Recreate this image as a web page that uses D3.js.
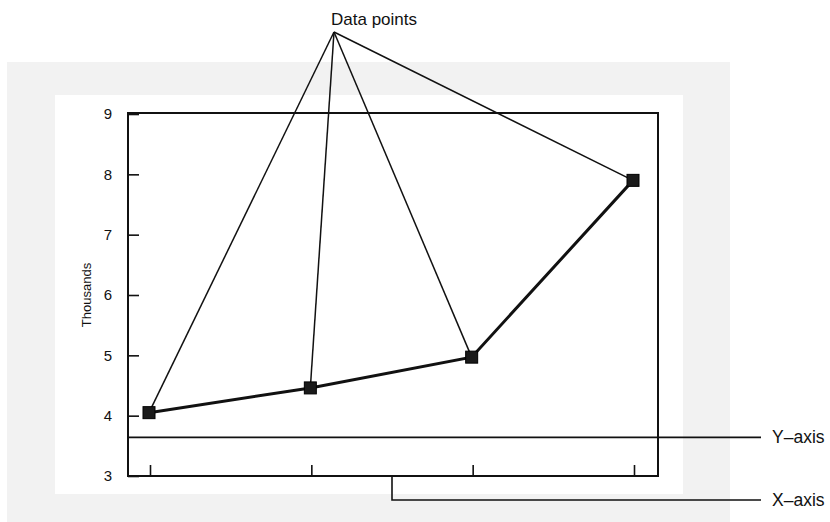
<!DOCTYPE html>
<html><head><meta charset="utf-8">
<script src="https://cdn.jsdelivr.net/npm/d3@7"></script>
<style>html,body{margin:0;padding:0;background:#fff;}svg{display:block;font-family:"Liberation Sans",Arial,sans-serif;}</style>
</head><body>
<svg id="c" width="830" height="522"></svg>
<script>
const categories = ["P1", "P2", "P3", "P4"];
const values = [4.05, 4.46, 4.97, 7.9];
const yTicks = [3, 4, 5, 6, 7, 8, 9];
const yAxisPointerValue = 3.64;
const calloutTitle = "Data points";
const yAxisLabel = "Thousands";
const pointerLabels = ["Y\u2013axis", "X\u2013axis"];

(function () {
const svg = d3.select("#c");
// faint scanned-page background
svg.append("rect").attr("x", 7).attr("y", 62).attr("width", 723).attr("height", 460).attr("fill", "#f2f2f2");
svg.append("rect").attr("x", 55).attr("y", 95).attr("width", 628).attr("height", 399).attr("fill", "#fff");

const pLeft = 128, pRight = 658, pTop = 113, pBottom = 476;
const x = d3.scalePoint().domain(categories).range([150, 634]);
const y = d3.scaleLinear().domain([3, 9]).range([pBottom, 114]);

// frame
svg.append("path").attr("d", `M${pLeft},${pTop}H${pRight}V${pBottom}H${pLeft}Z`)
  .attr("fill", "none").attr("stroke", "#111").attr("stroke-width", 2);

// y axis ticks (inside)
const yAx = d3.axisLeft(y).tickValues(yTicks).tickSizeInner(-11).tickSizeOuter(0).tickPadding(16).tickFormat(d3.format("d"));
const ya = svg.append("g").attr("transform", `translate(${pLeft},0)`).call(yAx);
ya.select(".domain").remove();
ya.selectAll("line").attr("stroke", "#111").attr("stroke-width", 1.6);
ya.selectAll("text").style("font-size", "15px").attr("fill", "#111").style("font-family", "Liberation Sans, Arial, sans-serif");

// x axis ticks (inside, no labels)
const xAx = d3.axisBottom(x).tickSizeInner(-10).tickSizeOuter(0).tickFormat("");
const xa = svg.append("g").attr("transform", `translate(0,${pBottom - 1})`).call(xAx);
xa.select(".domain").remove();
xa.selectAll("line").attr("stroke", "#111").attr("stroke-width", 1.6);

// y-axis label
svg.append("text").attr("transform", `translate(91,295) rotate(-90)`).attr("text-anchor", "middle")
  .style("font-size", "13px").attr("fill", "#111").text(yAxisLabel);

// pointers to axes
const yp = y(yAxisPointerValue);
svg.append("line").attr("x1", pLeft).attr("x2", 761).attr("y1", yp).attr("y2", yp)
  .attr("stroke", "#111").attr("stroke-width", 1.6);
svg.append("text").attr("x", 772).attr("y", yp + 6).style("font-size", "17.5px").attr("fill", "#111").text(pointerLabels[0]);
const xpX = (x(categories[1]) + x(categories[2])) / 2;
svg.append("path").attr("d", `M${xpX},${pBottom}V500H761`).attr("fill", "none")
  .attr("stroke", "#111").attr("stroke-width", 1.6);
svg.append("text").attr("x", 772).attr("y", 506).style("font-size", "17.5px").attr("fill", "#111").text(pointerLabels[1]);

// callout lines
const apex = [334, 32];
svg.append("text").attr("x", 331).attr("y", 25).attr("text-anchor", "start").style("font-size", "17px")
  .attr("fill", "#111").text(calloutTitle);
svg.append("g").selectAll("line").data(values).join("line")
  .attr("x1", apex[0]).attr("y1", apex[1])
  .attr("x2", (d, i) => x(categories[i]) - 1).attr("y2", d => y(d))
  .attr("stroke", "#111").attr("stroke-width", 1.5);

// data line
const line = d3.line().x((d, i) => x(categories[i]) - 1).y(d => y(d));
svg.append("path").datum(values).attr("d", line).attr("fill", "none")
  .attr("stroke", "#111").attr("stroke-width", 3);

// markers
svg.append("g").selectAll("rect").data(values).join("rect")
  .attr("x", (d, i) => x(categories[i]) - 1 - 6).attr("y", d => y(d) - 6)
  .attr("width", 12).attr("height", 12).attr("fill", "#1a1a1a").attr("stroke", "#000").attr("stroke-width", 1);
})();
</script>
</body></html>
